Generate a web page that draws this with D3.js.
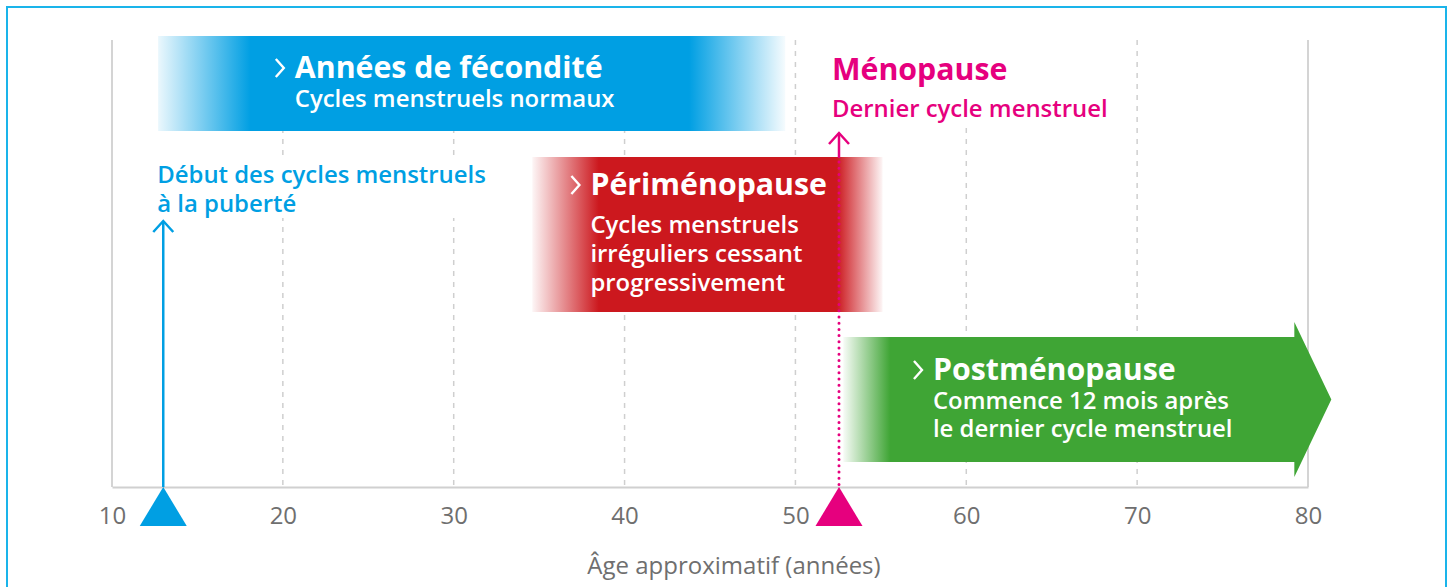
<!DOCTYPE html>
<html>
<head>
<meta charset="utf-8">
<script src="https://cdn.jsdelivr.net/npm/d3@7"></script>
<style>
  html, body { margin: 0; padding: 0; background: #fff; }
  svg { display: block; font-family: "Open Sans", "Noto Sans", sans-serif; }
</style>
</head>
<body>
<svg id="chart" width="1450" height="587"></svg>
<script>
// ---- Data ----
const tickValues = [10, 20, 30, 40, 50, 60, 70, 80];
const gridValues = [20, 30, 40, 50, 60, 70];
const axisTitle = "Âge approximatif (années)";

const phaseNames = ["Années de fécondité", "Périménopause", "Postménopause"];
const phaseSubs = [
  ["Cycles menstruels normaux"],
  ["Cycles menstruels", "irréguliers cessant", "progressivement"],
  ["Commence 12 mois après", "le dernier cycle menstruel"]
];
const phaseStart = [12.7, 34.6, 52.8];
const phaseEnd = [49.4, 55.1, 79.2];
const phaseLabelAge = [20.7, 38.0, 58.05];

const pubertyAge = 13;
const pubertyLines = ["Début des cycles menstruels", "à la puberté"];
const menopauseAge = 52.55;
const menopauseTitle = "Ménopause";
const menopauseSub = "Dernier cycle menstruel";

// ---- Styles / layout ----
const BLUE = "#009fe3", RED = "#cc181e", GREEN = "#3fa535", PINK = "#e6007e";
const GRAY = "#6f6f6f", LINE = "#d0d0d0";
const phaseColors = [BLUE, RED, GREEN];
const TITLE_SIZE = 30.3, SUB_SIZE = 23.9;
const plotTop = 40, plotBottom = 487;
const rows = [
  { y0: 36, y1: 131, title: 78, sub: [107] },
  { y0: 157, y1: 312, title: 195, sub: [233, 262, 291] },
  { y0: 337, y1: 462, title: 380, sub: [409, 437] }
];
const gradStops = [
  [[0, 0.08], [0.147, 1], [0.847, 1], [1, 0.04]],
  [[0, 0.04], [0.19, 1], [0.87, 1], [1, 0.04]],
  [[0, 0.04], [0.096, 1], [1, 1]]
];

const svg = d3.select("#chart");
const x = d3.scaleLinear().domain([10, 80]).range([112, 1308]);

// outer border
svg.append("rect").attr("x", 7).attr("y", 7).attr("width", 1439).attr("height", 620)
  .attr("fill", "none").attr("stroke", "#1ab4ea").attr("stroke-width", 2);

// grid
svg.append("g").selectAll("line").data(gridValues).join("line")
  .attr("x1", d => x(d)).attr("x2", d => x(d))
  .attr("y1", plotTop).attr("y2", plotBottom)
  .attr("stroke", "#cfcfcf").attr("stroke-width", 1.5).attr("stroke-dasharray", "5,6");

// frame lines
[10, 80].forEach(v => svg.append("line")
  .attr("x1", x(v)).attr("x2", x(v)).attr("y1", plotTop).attr("y2", plotBottom)
  .attr("stroke", LINE).attr("stroke-width", 1.8));

// axis
const axis = d3.axisBottom(x).tickValues(tickValues).tickSize(0).tickFormat(d3.format("d"));
const gAxis = svg.append("g").attr("transform", `translate(0,${plotBottom})`).call(axis);
gAxis.select(".domain").attr("stroke", LINE).attr("stroke-width", 1.8);
gAxis.selectAll("text").attr("y", 37).attr("dy", 0)
  .attr("fill", GRAY).attr("font-size", 24).attr("font-family", '"Open Sans", sans-serif');

svg.append("text").attr("x", (x(10) + x(80)) / 2 + 24).attr("y", 574)
  .attr("text-anchor", "middle").attr("fill", GRAY).attr("font-size", 24)
  .text(axisTitle);

// white backgrounds behind annotation labels
svg.append("rect").attr("x", x(pubertyAge) - 10).attr("y", 155).attr("width", 345).attr("height", 63).attr("fill", "#fff");
svg.append("rect").attr("x", x(menopauseAge) - 14).attr("y", plotTop - 2).attr("width", 292).attr("height", 88).attr("fill", "#fff");

// gradients
const defs = svg.append("defs");
phaseNames.forEach((n, i) => {
  const g = defs.append("linearGradient").attr("id", "grad" + i)
    .attr("x1", 0).attr("x2", 1).attr("y1", 0).attr("y2", 0);
  gradStops[i].forEach(s => g.append("stop").attr("offset", s[0])
    .attr("stop-color", phaseColors[i]).attr("stop-opacity", s[1]));
});

// phase bars
phaseNames.forEach((n, i) => {
  const r = rows[i];
  const xs = x(phaseStart[i]), xe = x(phaseEnd[i]);
  if (i === 2) {
    const head = 37, flare = 15;
    const pts = [[xs, r.y0], [xe, r.y0], [xe, r.y0 - flare], [xe + head, (r.y0 + r.y1) / 2],
      [xe, r.y1 + flare], [xe, r.y1], [xs, r.y1]];
    svg.append("polygon").attr("points", pts.map(p => p.join(",")).join(" "))
      .attr("fill", `url(#grad${i})`);
  } else {
    svg.append("rect").attr("x", xs).attr("y", r.y0).attr("width", xe - xs)
      .attr("height", r.y1 - r.y0).attr("fill", `url(#grad${i})`);
  }
});

// menopause vertical dotted line & arrow (above red bar)
const mx = x(menopauseAge);
svg.append("line").attr("x1", mx).attr("x2", mx).attr("y1", 133).attr("y2", 158)
  .attr("stroke", PINK).attr("stroke-width", 2.5);
svg.append("line").attr("x1", mx).attr("x2", mx).attr("y1", 162).attr("y2", plotBottom)
  .attr("stroke", PINK).attr("stroke-width", 3).attr("stroke-linecap", "round")
  .attr("stroke-dasharray", "0,6.2");
svg.append("path").attr("d", `M${mx - 10},${144} L${mx},${133} L${mx + 10},${144}`)
  .attr("fill", "none").attr("stroke", PINK).attr("stroke-width", 2.5);

// phase texts
phaseNames.forEach((n, i) => {
  const r = rows[i];
  const tx = x(phaseLabelAge[i]);
  svg.append("path")
    .attr("d", `M${tx - 19},${r.title - 19} L${tx - 11},${r.title - 10} L${tx - 19},${r.title - 1}`)
    .attr("fill", "none").attr("stroke", "#fff").attr("stroke-width", 2.4);
  svg.append("text").attr("x", tx).attr("y", r.title).attr("fill", "#fff")
    .attr("font-size", TITLE_SIZE).attr("font-weight", 700).text(n);
  phaseSubs[i].forEach((s, j) => svg.append("text").attr("x", tx).attr("y", r.sub[j])
    .attr("fill", "#fff").attr("font-size", SUB_SIZE).attr("font-weight", 600).text(s));
});

// puberty
const px = x(pubertyAge);
pubertyLines.forEach((s, j) => svg.append("text").attr("x", px - 6).attr("y", 183 + j * 29)
  .attr("fill", BLUE).attr("font-size", SUB_SIZE).attr("font-weight", 600).text(s));
svg.append("line").attr("x1", px).attr("x2", px).attr("y1", 221).attr("y2", plotBottom)
  .attr("stroke", BLUE).attr("stroke-width", 2.5);
svg.append("path").attr("d", `M${px - 10},${232} L${px},${221} L${px + 10},${232}`)
  .attr("fill", "none").attr("stroke", BLUE).attr("stroke-width", 2.5);

// menopause label
svg.append("text").attr("x", mx - 7).attr("y", 80).attr("fill", PINK)
  .attr("font-size", TITLE_SIZE).attr("font-weight", 700).text(menopauseTitle);
svg.append("text").attr("x", mx - 7).attr("y", 117).attr("fill", PINK)
  .attr("font-size", SUB_SIZE).attr("font-weight", 600).text(menopauseSub);

// triangles on axis
[[pubertyAge, BLUE], [menopauseAge, PINK]].forEach(([a, c]) => {
  const cx = x(a);
  svg.append("polygon")
    .attr("points", `${cx},${plotBottom} ${cx - 23.5},${plotBottom + 39} ${cx + 23.5},${plotBottom + 39}`)
    .attr("fill", c);
});
</script>
</body>
</html>
